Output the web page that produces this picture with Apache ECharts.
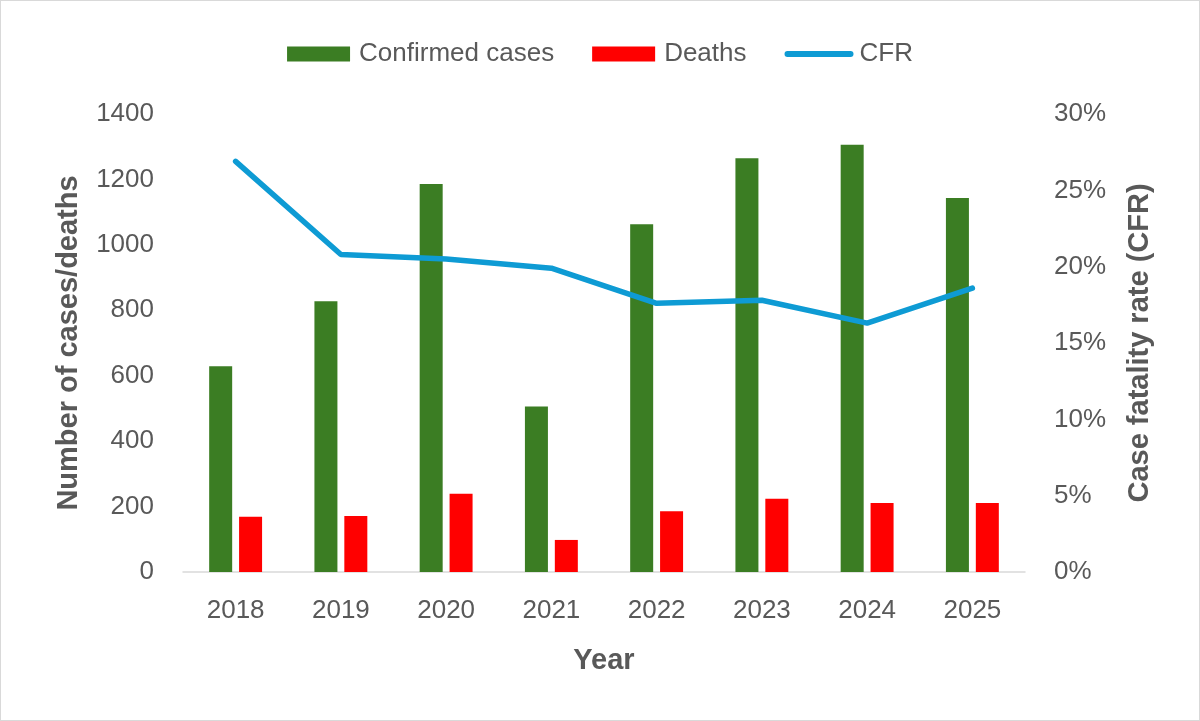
<!DOCTYPE html>
<html>
  <head>
    <meta charset="utf-8" />
    <title>Cases, deaths and CFR</title>
    <script src="https://cdn.jsdelivr.net/npm/echarts@6/dist/echarts.min.js"></script>
  </head>
  <body style="margin: 0; padding: 0; border: 0">
    <div id="main" style="width: 1198px; height: 719px; border: 1px solid #d9d9d9"></div>
    <script type="text/javascript">
      var years = ["2018", "2019", "2020", "2021", "2022", "2023", "2024", "2025"];
      var confirmed = [629, 828, 1186, 506, 1063, 1265, 1306, 1143];
      var deaths = [169, 171, 239, 98, 186, 224, 211, 211];
      var cfr = [26.9, 20.8, 20.5, 19.9, 17.6, 17.8, 16.3, 18.6];

      var textColor = "#595959";
      var font = "Liberation Sans";

      var myChart = echarts.init(document.getElementById("main"));
      myChart.setOption({
        animation: false,
        textStyle: { fontFamily: font, color: textColor },
        legend: {
          top: 35,
          left: "center",
          itemWidth: 63,
          itemHeight: 15,
          itemGap: 38,
          textStyle: { fontSize: 26, color: textColor, fontFamily: font, padding: [0, 0, 0, 4] },
          data: [
            { name: "Confirmed cases", icon: "rect" },
            { name: "Deaths", icon: "rect" },
            {
              name: "CFR",
              itemStyle: { opacity: 0 },
              lineStyle: { width: 6, cap: "round", color: "#0E9BD4" },
            },
          ],
        },
        grid: { left: 182, right: 174, top: 113, bottom: 148 },
        xAxis: {
          type: "category",
          data: years,
          name: "Year",
          nameLocation: "middle",
          nameGap: 74,
          nameTextStyle: { fontSize: 29, fontWeight: "bold", color: textColor },
          axisLine: { lineStyle: { color: "#d9d9d9", width: 1.5 } },
          axisTick: { show: false },
          axisLabel: { fontSize: 26, color: textColor, margin: 26 },
        },
        yAxis: [
          {
            type: "value",
            min: 0,
            max: 1400,
            interval: 200,
            name: "Number of cases/deaths",
            nameLocation: "middle",
            nameGap: 100,
            nameTextStyle: { fontSize: 29, fontWeight: "bold", color: textColor },
            splitLine: { show: false },
            axisLabel: {
              fontSize: 26,
              color: textColor,
              margin: 29,
              formatter: function (v) {
                return String(v);
              },
            },
          },
          {
            type: "value",
            min: 0,
            max: 30,
            interval: 5,
            name: "Case fatality rate (CFR)",
            nameLocation: "middle",
            nameGap: 100,
            nameRotate: 90,
            nameTextStyle: { fontSize: 29, fontWeight: "bold", color: textColor },
            splitLine: { show: false },
            axisLabel: { fontSize: 26, color: textColor, margin: 29, formatter: "{value}%" },
          },
        ],
        series: [
          {
            name: "Confirmed cases",
            type: "bar",
            data: confirmed,
            barWidth: 23,
            barGap: "30%",
            itemStyle: { color: "#3B7D23" },
          },
          {
            name: "Deaths",
            type: "bar",
            data: deaths,
            barWidth: 23,
            itemStyle: { color: "#FF0000" },
          },
          {
            name: "CFR",
            type: "line",
            yAxisIndex: 1,
            data: cfr,
            symbol: "none",
            lineStyle: { color: "#0E9BD4", width: 5.5, cap: "round" },
            itemStyle: { color: "#0E9BD4" },
          },
        ],
      });
    </script>
  </body>
</html>
